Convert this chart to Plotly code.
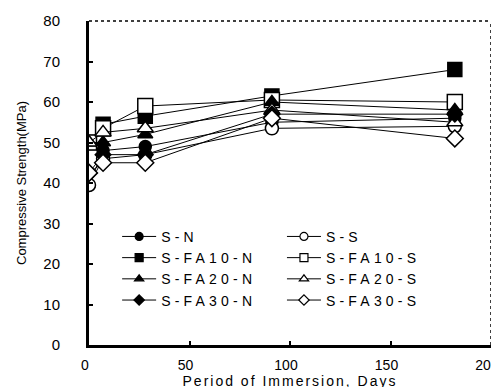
import plotly.graph_objects as go

days = [0, 7, 28, 91, 182]
series_names = ["S-N", "S-S", "S-FA10-N", "S-FA10-S", "S-FA20-N", "S-FA20-S", "S-FA30-N", "S-FA30-S"]
s_n = [39.5, 48, 49, 55, 56]
s_s = [39.5, 46, 47, 53.5, 54]
s_fa10_n = [50, 54.5, 56.5, 61.5, 68]
s_fa10_s = [50, 53.5, 59, 60.5, 60]
s_fa20_n = [50, 50, 52, 60, 58]
s_fa20_s = [50, 52.5, 53.5, 58, 55]
s_fa30_n = [42.5, 47, 47, 57, 57]
s_fa30_s = [42.5, 45, 45, 56, 51]
values = [s_n, s_s, s_fa10_n, s_fa10_s, s_fa20_n, s_fa20_s, s_fa30_n, s_fa30_s]
y_ticks = [0, 10, 20, 30, 40, 50, 60, 70, 80]
x_ticks = [0, 50, 100, 150, 200]

symbols = ["circle", "circle", "square", "square", "triangle-up", "triangle-up", "diamond", "diamond"]
sizes = [12, 13, 14, 15, 13, 14, 12, 13]
filled = [True, False, True, False, True, False, True, False]

FONT = "Liberation Sans, Arial, sans-serif"
fig = go.Figure()
for name, vals, sym, sz, fl in zip(series_names, values, symbols, sizes, filled):
    fig.add_trace(go.Scatter(
        x=days, y=vals, mode="lines+markers", name=name, showlegend=False,
        line=dict(color="black", width=1),
        marker=dict(symbol=sym, size=sz, color="black" if fl else "white",
                    line=dict(color="black", width=1.5)),
    ))
# legend entries (small symbols as in the original legend)
for i, (name, sym, fl) in enumerate(zip(series_names, symbols, filled)):
    fig.add_trace(go.Scatter(
        x=[None], y=[None], mode="lines+markers", name=name,
        legend="legend" if i % 2 == 0 else "legend2",
        line=dict(color="black", width=1),
        marker=dict(symbol=sym, size=8, color="black" if fl else "white",
                    line=dict(color="black", width=1.2)),
    ))

legend_common = dict(
    font=dict(family=FONT, size=14, color="black"),
    bgcolor="rgba(0,0,0,0)", borderwidth=0,
    xref="paper", yref="paper", yanchor="bottom", xanchor="left",
    tracegroupgap=0, itemwidth=34,
)
fig.update_layout(
    width=499, height=387,
    margin=dict(l=81, r=16, t=13, b=50),
    paper_bgcolor="white", plot_bgcolor="white",
    font=dict(family=FONT, size=14, color="black"),
    legend=dict(x=0.07, y=0.09, **legend_common),
    legend2=dict(x=0.48, y=0.09, **legend_common),
    xaxis=dict(range=[0, 200], tickvals=x_ticks, showgrid=False, zeroline=False,
               showline=True, linecolor="black", linewidth=3, automargin=False,
               ticks="inside", ticklen=4, tickwidth=2, tickcolor="black",
               ticklabelstandoff=5, ticklabelshift=-4, tickfont=dict(size=14),
               title=dict(text="Period of Immersion, Days", standoff=0,
                          font=dict(family=FONT, size=14))),
    yaxis=dict(range=[0, 80], tickvals=y_ticks, showgrid=False, zeroline=False,
               showline=True, linecolor="black", linewidth=3, automargin=False,
               ticks="inside", ticklen=4, tickwidth=2, tickcolor="black",
               ticklabelstandoff=23, tickfont=dict(size=15),
               title=dict(text="Compressive Strength(MPa)", standoff=14,
                          font=dict(family=FONT, size=13))),
)
# dotted top and right frame
fig.add_shape(type="line", xref="x domain", yref="y domain", x0=0, x1=1, y0=1, y1=1,
              line=dict(color="black", width=1.5, dash="dot"))
fig.add_shape(type="line", xref="x domain", yref="y domain", x0=1, x1=1, y0=0, y1=1,
              line=dict(color="black", width=1.5, dash="dot"))

# widen letter spacing of legend and x-title text, as in the scanned original
post = """
var st = document.createElement('style');
st.textContent = 'g[class^="legend"] text{letter-spacing:4.2px !important;}'
  + ' g[class^="legend"] .scrollbox, g[class^="legend"] g{clip-path:none !important;}'
  + ' .g-xtitle text{letter-spacing:2px !important;}';
document.head.appendChild(st);
"""
fig.write_html("out.html", post_script=post)
